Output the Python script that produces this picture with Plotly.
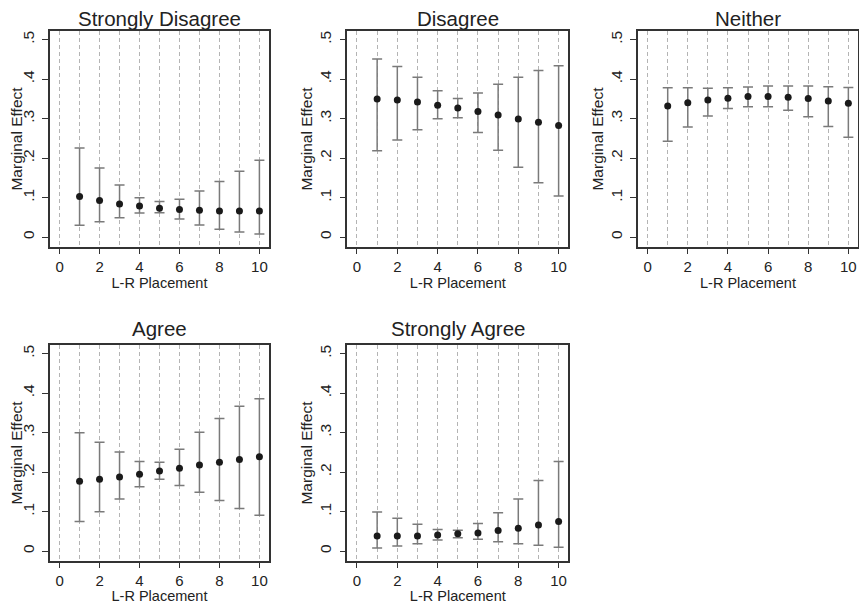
import plotly.graph_objects as go

x_vals = [1, 2, 3, 4, 5, 6, 7, 8, 9, 10]
panel_titles = ["Strongly Disagree", "Disagree", "Neither", "Agree", "Strongly Agree"]

sd_est = [0.103, 0.093, 0.084, 0.079, 0.073, 0.070, 0.068, 0.066, 0.066, 0.066]
sd_hi = [0.226, 0.175, 0.132, 0.100, 0.090, 0.096, 0.117, 0.141, 0.167, 0.195]
sd_lo = [0.030, 0.039, 0.049, 0.061, 0.062, 0.046, 0.031, 0.020, 0.013, 0.008]

d_est = [0.350, 0.347, 0.342, 0.334, 0.327, 0.318, 0.309, 0.299, 0.291, 0.283]
d_hi = [0.451, 0.432, 0.405, 0.371, 0.351, 0.365, 0.387, 0.405, 0.422, 0.434]
d_lo = [0.219, 0.246, 0.272, 0.300, 0.302, 0.265, 0.220, 0.177, 0.138, 0.104]

n_est = [0.332, 0.340, 0.347, 0.352, 0.356, 0.356, 0.354, 0.351, 0.345, 0.339]
n_hi = [0.378, 0.378, 0.377, 0.378, 0.380, 0.383, 0.383, 0.383, 0.381, 0.379]
n_lo = [0.243, 0.279, 0.307, 0.326, 0.330, 0.330, 0.321, 0.305, 0.280, 0.253]

a_est = [0.177, 0.182, 0.188, 0.195, 0.203, 0.210, 0.218, 0.225, 0.232, 0.239]
a_hi = [0.300, 0.276, 0.251, 0.227, 0.225, 0.258, 0.301, 0.336, 0.367, 0.386]
a_lo = [0.075, 0.100, 0.132, 0.163, 0.182, 0.166, 0.149, 0.128, 0.108, 0.091]

sa_est = [0.038, 0.038, 0.038, 0.041, 0.044, 0.046, 0.052, 0.058, 0.066, 0.075]
sa_hi = [0.099, 0.083, 0.068, 0.055, 0.053, 0.070, 0.097, 0.132, 0.179, 0.227]
sa_lo = [0.008, 0.013, 0.019, 0.028, 0.034, 0.030, 0.024, 0.019, 0.015, 0.010]

y_tickvals = [0, 0.1, 0.2, 0.3, 0.4, 0.5]
y_ticktext = ["0", ".1", ".2", ".3", ".4", ".5"]
x_tickvals = [0, 2, 4, 6, 8, 10]

panels = [
    (sd_est, sd_hi, sd_lo),
    (d_est, d_hi, d_lo),
    (n_est, n_hi, n_lo),
    (a_est, a_hi, a_lo),
    (sa_est, sa_hi, sa_lo),
]

# page body has an 8px margin, so the figure is drawn 8px in from each edge
W, H = 851, 596
x_doms = [[42 / W, 261 / W], [339.3 / W, 560.3 / W], [630 / W, 850 / W]]
y_doms = [[1 - 239 / H, 1 - 23 / H], [1 - 553 / H, 1 - 337 / H]]

FONT = "Liberation Sans, Arial, sans-serif"
TXT = "#222222"
GRID = "#b4b4b4"
fig = go.Figure()
layout = dict(
    width=W, height=H,
    margin=dict(l=0, r=0, t=0, b=0),
    paper_bgcolor="white", plot_bgcolor="white",
    showlegend=False,
    font=dict(family=FONT, color=TXT),
    annotations=[],
)

for i, (est, hi, lo) in enumerate(panels):
    row, col = divmod(i, 3)
    k = "" if i == 0 else str(i + 1)
    fig.add_trace(go.Scatter(
        x=x_vals, y=est, mode="markers",
        marker=dict(color="#1a1a1a", size=7),
        error_y=dict(type="data", symmetric=False,
                     array=[h - e for h, e in zip(hi, est)],
                     arrayminus=[e - l for e, l in zip(est, lo)],
                     color="#7a7a7a", thickness=1.5, width=5),
        xaxis="x" + k, yaxis="y" + k,
    ))
    common = dict(showline=True, linecolor="#333333", linewidth=1.6, mirror=True,
                  ticks="outside", tickwidth=1.2, tickcolor="#333333",
                  zeroline=False)
    layout["xaxis" + k] = dict(
        domain=x_doms[col], anchor="y" + k, range=[-0.48, 10.48],
        tickvals=x_tickvals, ticklen=5,
        tickfont=dict(size=15, family=FONT, color=TXT),
        showgrid=True, gridcolor=GRID, griddash="4px,3px", gridwidth=1,
        minor=dict(dtick=1, tick0=0, showgrid=True, gridcolor=GRID, griddash="4px,3px",
                   gridwidth=1, ticks=""),
        title=dict(text="L-R Placement", font=dict(size=14.5, family=FONT, color=TXT), standoff=0),
        **common)
    layout["yaxis" + k] = dict(
        domain=y_doms[row], anchor="x" + k, range=[-0.025, 0.522],
        tickvals=y_tickvals, ticktext=y_ticktext, tickangle=-90, showgrid=False,
        ticklen=6, ticklabelstandoff=2,
        tickfont=dict(size=15.5, family=FONT, color=TXT),
        title=dict(text="Marginal Effect", font=dict(size=15.5, family=FONT, color=TXT), standoff=1),
        **common)
    if row == 0:
        ann_pos = dict(y=1, yanchor="top", yshift=3)
    else:
        ann_pos = dict(y=y_doms[row][1] + 17 / H, yanchor="middle")
    layout["annotations"].append(dict(
        text=panel_titles[i], xref="paper", yref="paper",
        x=sum(x_doms[col]) / 2, xanchor="center", showarrow=False,
        font=dict(size=20.5, family=FONT, color=TXT), **ann_pos))

fig.update_layout(**layout)
fig.write_html("out.html")
